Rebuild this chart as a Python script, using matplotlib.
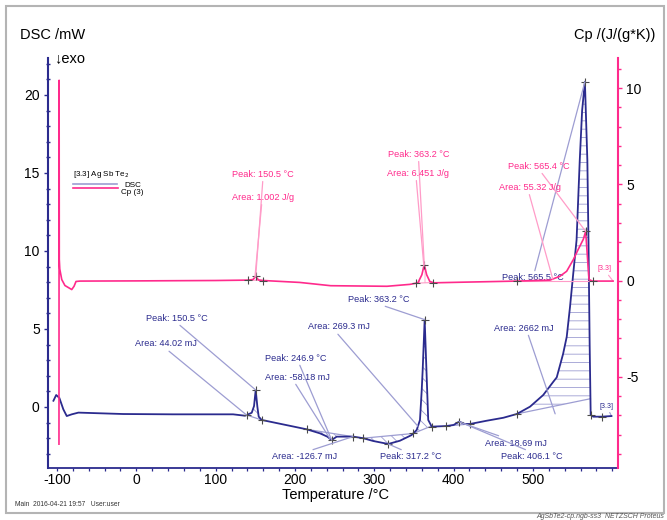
import numpy as np
import matplotlib.pyplot as plt
from matplotlib.lines import Line2D
from matplotlib.patches import Rectangle
from matplotlib.ticker import MultipleLocator, FixedLocator

plt.rcParams['font.family'] = ['Liberation Sans', 'DejaVu Sans']
plt.rcParams['hatch.linewidth'] = 0.6
plt.rcParams['axes.unicode_minus'] = False

NAVY = '#2b2b8e'
PINK = '#ff2a8c'
LAV = '#9d9dd2'
LPINK = '#ff9cc8'
CROSS = '#4a4a4a'

# DSC curve, mW
t_dsc = [-104.5, -101, -97, -92, -87.7, -81.4, -73, -16.7, 46, 122, 137, 145.5, 148.4,
         150.5, 152.6, 154.3, 158, 214.8, 231.6, 240.8, 246.3, 252.6, 273.5, 286,
         298.7, 317.6, 332.4, 347, 353.5, 357.6, 359.8, 361, 363.5, 366, 368, 372.4,
         391, 400, 407, 414.3, 420.6, 441.7, 462.7, 479.6, 496.3, 513, 525.7, 530,
         538, 542.6, 546.7, 550.9, 555, 559, 562, 565.5, 568.6, 570, 571.5, 572.8,
         576, 586.7, 599]
dsc = [0.40, 0.77, 0.58, -0.15, -0.58, -0.47, -0.36, -0.45, -0.47, -0.47, -0.56, -0.37, 0.06,
       1.09, 0.02, -0.62, -0.83, -1.43, -1.69, -1.9, -2.12, -1.9, -1.9, -2.0,
       -2.18, -2.37, -2.16, -1.8, -1.47, -0.83, 1.09, 2.37, 5.6, 2.0, -0.83, -1.26,
       -1.22, -1.15, -0.94, -1.09, -1.09, -0.88, -0.69, -0.45, 0.02, 0.77, 1.62, 1.9,
       3.4, 4.5, 6.4, 8.6, 10.7, 15.8, 19.0, 20.85, 15.8, 10.7, 4.0, -0.51,
       -0.62, -0.62, -0.58]

# Cp curve, J/(g*K)
t_cp = [-97.5, -97.3, -97.1, -96.5, -94, -90, -81.4, -78.5, -76, -71, 0, 100, 140, 147,
        150.5, 154, 160, 206, 245, 316, 345, 355, 360, 363, 366, 370, 375, 408, 480,
        521.5, 534, 542.5, 551, 557, 563.5, 566.5, 568.6, 570.7, 575, 601]
cp = [-8.5, 10.4, 1.1, 0.6, 0.05, -0.26, -0.47, -0.3, -0.05, -0.03, -0.02, 0.0, 0.02, 0.05,
      0.21, 0.03, 0.0, -0.1, -0.27, -0.3, -0.2, -0.12, 0.3, 0.83, 0.3, -0.05, -0.12, -0.09, -0.03,
      0.02, 0.22, 0.48, 1.09, 1.61, 2.14, 2.55, 1.27, 0.05, -0.03, -0.03]

x_ticks = [-100, 0, 100, 200, 300, 400, 500]

# integration limits (start, end, hatch)
dsc_areas = [(139, 158, '\\\\\\'), (215, 273, '\\\\\\'), (286, 349, '\\\\\\'),
             (349, 372, '\\\\\\'), (391, 421, '\\\\\\'), (480, 572.5, '--')]
cp_areas = [(141, 160, '|||'), (353, 374, '|||'), (480, 576, None)]

dsc_marks = [139, 150.5, 158, 215, 246.3, 273, 286, 317.6, 349, 363.5, 372.4, 391, 407,
             421, 480, 565.5, 572.8, 586.7]
cp_marks = [141, 150.5, 160, 353, 363, 374, 480, 566.5, 576]

# text, x, y, start of leader (relative to text box), end temperature
dsc_notes = [
    ('Peak: 150.5 °C', 12, 5.7, (0.5, 0), 150.5),
    ('Area: 44.02 mJ', -2, 4.04, (0.5, 0), 139),
    ('Peak: 246.9 °C', 162, 3.14, (0.55, 0), 246.3),
    ('Area: -58.18 mJ', 162, 1.92, (0.45, 0), 244),
    ('Area: 269.3 mJ', 216, 5.13, (0.45, 0), 355),
    ('Peak: 363.2 °C', 267, 6.92, (0.47, 0), 363.5),
    ('Area: 2662 mJ', 451, 5.06, (0.56, 0), None),
    ('Peak: 565.5 °C', 461, 8.27, (0.5, 0.5), 565.5),
    ('Area: -126.7 mJ', 171, -3.2, (0.5, 1), 273),
    ('Peak: 317.2 °C', 307, -3.2, (0.45, 1), 317.6),
    ('Area: 18.69 mJ', 440, -2.31, (0.55, 0.5), 414),
    ('Peak: 406.1 °C', 460, -3.2, (0.5, 1), 407),
]
cp_notes = [
    ('Peak: 150.5 °C', 120.7, 5.52, (0.5, 0), 150.5),
    ('Area: 1.002 J/g', 120.7, 4.32, (0.48, 0), 149.5),
    ('Peak: 363.2 °C', 317, 6.56, (0.5, 0), 363),
    ('Area: 6.451 J/g', 316, 5.57, (0.47, 0), 362.5),
    ('Peak: 565.4 °C', 468.5, 5.94, (0.52, 0), 566.5),
    ('Area: 55.32 J/g', 457, 4.84, (0.48, 0), None),
]

fig = plt.figure(figsize=(6.67, 5.2), dpi=100)
ax = fig.add_axes([0.072, 0.1, 0.8545, 0.7885])
ax2 = ax.twinx()

ax.set_xlim(-111.3, 607.2)
ax.set_ylim(-3.91, 22.37)
ax2.set_ylim(-9.74, 11.56)

td = np.array(t_dsc)
yd = np.array(dsc)
tc = np.array(t_cp)
yc = np.array(cp)

ax.plot(td, yd, color=NAVY, lw=1.3, zorder=4)
ax2.plot(tc, yc, color=PINK, lw=1.2, zorder=4)

# DSC evaluations: baseline + hatch
for t0, t1, h in dsc_areas:
    tt = np.linspace(t0, t1, 200)
    v0, v1 = np.interp([t0, t1], td, yd)
    base = v0 + (v1 - v0) * (tt - t0) / (t1 - t0)
    ax.plot([t0, t1], [v0, v1], color=LAV, lw=0.9, zorder=3)
    ax.fill_between(tt, np.interp(tt, td, yd), base, facecolor='none', edgecolor=LAV,
                    hatch=h, linewidth=0, zorder=2)
big_base = np.interp(dsc_areas[-1][0], td, yd)

for t0, t1, h in cp_areas:
    v0, v1 = np.interp([t0, t1], tc, yc)
    ax2.plot([t0, t1], [v0, v1], color=LPINK, lw=0.8, zorder=3)
    if h:
        tt = np.linspace(t0, t1, 100)
        base = v0 + (v1 - v0) * (tt - t0) / (t1 - t0)
        ax2.fill_between(tt, np.interp(tt, tc, yc), base, facecolor='none', edgecolor=LPINK,
                         hatch=h, linewidth=0, zorder=2)

ax.plot(dsc_marks, np.interp(dsc_marks, td, yd), '+', color=CROSS, ms=6, mew=0.8, zorder=5)
ax2.plot(cp_marks, np.interp(cp_marks, tc, yc), '+', color=CROSS, ms=6, mew=0.8, zorder=5)

for txt, x, y, rp, te in dsc_notes:
    if te is None:
        end = (528, big_base)
    else:
        end = (te, np.interp(te, td, yd))
    ax.annotate(txt, xy=end, xytext=(x, y), fontsize=6.6, color=NAVY, ha='left', va='center',
                zorder=6,
                arrowprops=dict(arrowstyle='-', color=LAV, lw=0.9, shrinkA=0, shrinkB=0, relpos=rp))
ax.annotate('[3.3]', xy=(t_dsc[-1], dsc[-1]), xytext=(584.5, 0.05), fontsize=5, color=NAVY,
            ha='left', va='center',
            arrowprops=dict(arrowstyle='-', color=LAV, lw=0.8, shrinkA=0, shrinkB=0, relpos=(0.6, 0)))

for txt, x, y, rp, te in cp_notes:
    if te is None:
        end = (525, np.interp(525, tc, yc))
    else:
        end = (te, np.interp(te, tc, yc))
    ax2.annotate(txt, xy=end, xytext=(x, y), fontsize=6.6, color=PINK, ha='left', va='center',
                 zorder=6,
                 arrowprops=dict(arrowstyle='-', color=LPINK, lw=0.9, shrinkA=0, shrinkB=0, relpos=rp))
ax2.annotate('[3.3]', xy=(t_cp[-1], cp[-1]), xytext=(582, 0.6), fontsize=5, color=PINK,
             ha='left', va='center',
             arrowprops=dict(arrowstyle='-', color=LPINK, lw=0.8, shrinkA=0, shrinkB=0, relpos=(0.6, 0)))

# axes styling
for a in (ax, ax2):
    a.spines['top'].set_visible(False)
ax.spines['right'].set_visible(False)
ax2.spines['left'].set_visible(False)
ax2.spines['bottom'].set_visible(False)
ax.spines['left'].set_color(NAVY)
ax.spines['left'].set_linewidth(1.5)
ax.spines['bottom'].set_color(NAVY)
ax.spines['bottom'].set_linewidth(1.3)
ax2.spines['right'].set_color(PINK)
ax2.spines['right'].set_linewidth(1.5)

ax.xaxis.set_major_locator(FixedLocator(x_ticks))
ax.xaxis.set_minor_locator(MultipleLocator(20))
ax.yaxis.set_major_locator(MultipleLocator(5))
ax.yaxis.set_minor_locator(MultipleLocator(1))
ax2.yaxis.set_major_locator(MultipleLocator(5))
ax2.yaxis.set_minor_locator(MultipleLocator(1))

ax.tick_params(axis='x', which='both', direction='out', length=2.5, width=0.9, color=NAVY,
               labelsize=10, pad=1)
ax.tick_params(axis='y', which='major', direction='out', length=3, width=1, color=NAVY,
               labelsize=10, pad=3)
ax.tick_params(axis='y', which='minor', direction='inout', length=2.5, width=1, color=NAVY)
ax2.tick_params(axis='y', which='major', direction='out', length=3, width=1, color=PINK,
                labelsize=10, pad=3)
ax2.tick_params(axis='y', which='minor', direction='out', length=2, width=1, color=PINK)

# titles and labels
fig.text(20 / 667, 1 - 35 / 520, 'DSC /mW', fontsize=10.5, va='center', ha='left')
fig.text(54 / 667, 1 - 58 / 520, '↓exo', fontsize=10.5, va='center', ha='left')
fig.text(655 / 667, 1 - 35 / 520, 'Cp /(J/(g*K))', fontsize=10.5, va='center', ha='right')
fig.text(336 / 667, 1 - 495 / 520, 'Temperature /°C', fontsize=10.5, va='center', ha='center')
fig.text(15 / 667, 1 - 505 / 520, 'Main  2016-04-21 19:57   User:user', fontsize=4.8,
         va='center', ha='left', color='#333333')
fig.text(664 / 667, 1 - 516 / 520, 'AgSbTe2-cp.ngb-ss3  NETZSCH Proteus', fontsize=5,
         va='center', ha='right', style='italic', color='#555555')

# legend
fig.text(73 / 667, 1 - 175 / 520, '[3.3] Ag Sb Te$_2$', fontsize=5.8, va='center', ha='left')
fig.add_artist(Line2D([73 / 667, 117 / 667], [1 - 184 / 520, 1 - 184 / 520], color=LAV, lw=1.2))
fig.add_artist(Line2D([73 / 667, 118 / 667], [1 - 188 / 520, 1 - 188 / 520], color=PINK, lw=1.2))
fig.text(124 / 667, 1 - 185 / 520, 'DSC', fontsize=5.8, va='center', ha='left')
fig.text(121 / 667, 1 - 193 / 520, 'Cp (3)', fontsize=5.8, va='center', ha='left')

# frame
fig.add_artist(Rectangle((6 / 667, 7 / 520), 658 / 667, 507 / 520, transform=fig.transFigure,
                         fill=False, edgecolor='#b4b4b4', lw=1.5))

fig.savefig('out.png', dpi=100)
